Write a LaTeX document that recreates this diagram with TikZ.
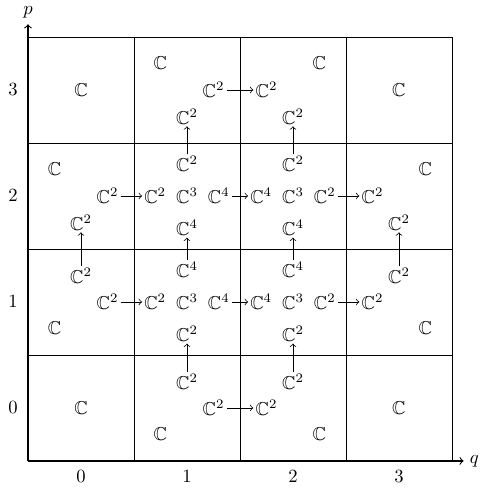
\documentclass[tikz,border=0pt]{standalone}
\usepackage{amsmath,amssymb,xcolor,tikz}

\begin{document}
\begin{tikzpicture}[x=2cm,y=2cm,inner sep=1pt]
\useasboundingbox (-0.264,-0.274) rectangle (4.292,4.349);
\draw[step=2cm] (0,0) grid (4,4);
\draw[semithick,->] (0,0)--(4.11,0) node[right,inner sep=3pt] {$q$};
\draw[semithick,->] (0,0)--(0,4.12) node[above,inner sep=3pt] {$p$};
\node at (0.5,-0.15) {$0$};\node at (1.5,-0.15) {$1$};
\node at (2.5,-0.15) {$2$};\node at (3.5,-0.15) {$3$};
\node at (-0.14,0.5) {$0$};\node at (-0.14,1.5) {$1$};
\node at (-0.14,2.5) {$2$};\node at (-0.14,3.5) {$3$};
% p = 3
\node (k03) at (0.5,3.5) {$\mathbb{C}$};
\node (k13) at (1.25,3.75) {$\mathbb{C}$};
\node (r13) at (1.75,3.5) {$\mathbb{C}^2$};
\node (b13) at (1.5,3.25) {$\mathbb{C}^2$};
\node (l23) at (2.25,3.5) {$\mathbb{C}^2$};
\node (k23) at (2.75,3.75) {$\mathbb{C}$};
\node (b23) at (2.5,3.25) {$\mathbb{C}^2$};
\node (k33) at (3.5,3.5) {$\mathbb{C}$};
% p = 2
\node (k02) at (0.25,2.75) {$\mathbb{C}$};
\node (r02) at (0.75,2.5) {$\mathbb{C}^2$};
\node (b02) at (0.5,2.25) {$\mathbb{C}^2$};
\node (l12) at (1.2,2.5) {$\mathbb{C}^2$};
\node (m12) at (1.5,2.5) {$\mathbb{C}^3$};
\node (r12) at (1.8,2.5) {$\mathbb{C}^4$};
\node (t12) at (1.5,2.8) {$\mathbb{C}^2$};
\node (b12) at (1.5,2.2) {$\mathbb{C}^4$};
\node (l22) at (2.2,2.5) {$\mathbb{C}^4$};
\node (m22) at (2.5,2.5) {$\mathbb{C}^3$};
\node (r22) at (2.8,2.5) {$\mathbb{C}^2$};
\node (t22) at (2.5,2.8) {$\mathbb{C}^2$};
\node (b22) at (2.5,2.2) {$\mathbb{C}^4$};
\node (l32) at (3.25,2.5) {$\mathbb{C}^2$};
\node (k32) at (3.75,2.75) {$\mathbb{C}$};
\node (b32) at (3.5,2.25) {$\mathbb{C}^2$};
% p = 1
\node (k01) at (0.25,1.25) {$\mathbb{C}$};
\node (r01) at (0.75,1.5) {$\mathbb{C}^2$};
\node (t01) at (0.5,1.75) {$\mathbb{C}^2$};
\node (l11) at (1.2,1.5) {$\mathbb{C}^2$};
\node (m11) at (1.5,1.5) {$\mathbb{C}^3$};
\node (r11) at (1.8,1.5) {$\mathbb{C}^4$};
\node (t11) at (1.5,1.8) {$\mathbb{C}^4$};
\node (b11) at (1.5,1.2) {$\mathbb{C}^2$};
\node (l21) at (2.2,1.5) {$\mathbb{C}^4$};
\node (m21) at (2.5,1.5) {$\mathbb{C}^3$};
\node (r21) at (2.8,1.5) {$\mathbb{C}^2$};
\node (t21) at (2.5,1.8) {$\mathbb{C}^4$};
\node (b21) at (2.5,1.2) {$\mathbb{C}^2$};
\node (l31) at (3.25,1.5) {$\mathbb{C}^2$};
\node (t31) at (3.5,1.75) {$\mathbb{C}^2$};
\node (k31) at (3.75,1.25) {$\mathbb{C}$};
% p = 0
\node (k00) at (0.5,0.5) {$\mathbb{C}$};
\node (k10) at (1.25,0.25) {$\mathbb{C}$};
\node (r10) at (1.75,0.5) {$\mathbb{C}^2$};
\node (t10) at (1.5,0.75) {$\mathbb{C}^2$};
\node (l20) at (2.25,0.5) {$\mathbb{C}^2$};
\node (t20) at (2.5,0.75) {$\mathbb{C}^2$};
\node (k20) at (2.75,0.25) {$\mathbb{C}$};
\node (k30) at (3.5,0.5) {$\mathbb{C}$};
% maps in q
\draw[->] (r13)--(l23);
\draw[->] (r02)--(l12);\draw[->] (r12)--(l22);\draw[->] (r22)--(l32);
\draw[->] (r01)--(l11);\draw[->] (r11)--(l21);\draw[->] (r21)--(l31);
\draw[->] (r10)--(l20);
% maps in p
\draw[->] (t01)--(b02);\draw[->] (t31)--(b32);
\draw[->] (t10)--(b11);\draw[->] (t11)--(b12);\draw[->] (t12)--(b13);
\draw[->] (t20)--(b21);\draw[->] (t21)--(b22);\draw[->] (t22)--(b23);
\end{tikzpicture}
\end{document}
